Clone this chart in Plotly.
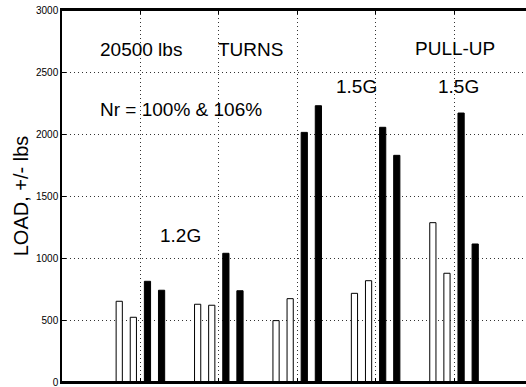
import plotly.graph_objects as go

# Data
groups = [1, 2, 3, 4, 5]
white_a = [651, 627, 495, 715, 1285]
white_b = [522, 619, 672, 817, 877]
black_a = [812, 1038, 2013, 2054, 2169]
black_b = [740, 736, 2228, 1828, 1113]
y_ticks = [0, 500, 1000, 1500, 2000, 2500, 3000]

labels = ["20500 lbs", "TURNS", "PULL-UP", "Nr = 100% & 106%", "1.5G", "1.5G", "1.2G"]
label_pos = [(1.01, 2683), (2.40, 2683), (5.01, 2690), (1.515, 2194),
             (3.76, 2381), (5.06, 2381), (1.514, 1180)]

FONT = "Liberation Sans, Arial, Helvetica, sans-serif"

fig = go.Figure()
series = [(white_a, "white"), (white_b, "white"), (black_a, "black"), (black_b, "black")]
for vals, col in series:
    fig.add_trace(go.Bar(
        x=groups, y=vals,
        marker=dict(color=col, line=dict(color="black", width=1)),
        showlegend=False,
    ))

for txt, (px, py) in zip(labels, label_pos):
    fig.add_annotation(x=px, y=py, xref="x", yref="y", text=txt, showarrow=False,
                       font=dict(family=FONT, size=19, color="black"),
                       xanchor="center", yanchor="middle")

# box frame: top and bottom edges of the plot area
for yy in (0, 1):
    fig.add_shape(type="line", xref="paper", yref="paper", x0=0, x1=1, y0=yy, y1=yy,
                  line=dict(color="black", width=2), layer="above")

fig.update_layout(
    width=526, height=387,
    margin=dict(l=62, r=0, t=10, b=5, pad=0),
    plot_bgcolor="white", paper_bgcolor="white",
    barmode="group", bargap=0.28, bargroupgap=0.56,
    font=dict(family=FONT, size=10, color="black"),
)
fig.update_xaxes(
    range=[0, 5.918], tickvals=groups, showticklabels=False,
    ticks="inside", ticklen=4, tickcolor="black", tickwidth=1,
    showline=True, linecolor="black", linewidth=2, mirror="allticks",
    showgrid=True, gridcolor="#333333", griddash="1px,3px", gridwidth=1,
    zeroline=False,
)
fig.update_yaxes(
    range=[0, 3000], tickvals=y_ticks, automargin=False, ticklabeloverflow="allow",
    ticks="inside", ticklen=4, tickcolor="black", tickwidth=1,
    showline=True, linecolor="black", linewidth=1.5,
    showgrid=True, gridcolor="#333333", griddash="1px,3px", gridwidth=1,
    zeroline=False,
    tickfont=dict(family=FONT, size=10, color="black"),
    title=dict(text="LOAD, +/- lbs", font=dict(family=FONT, size=20, color="black"), standoff=2),
)

fig.write_html("out.html")
